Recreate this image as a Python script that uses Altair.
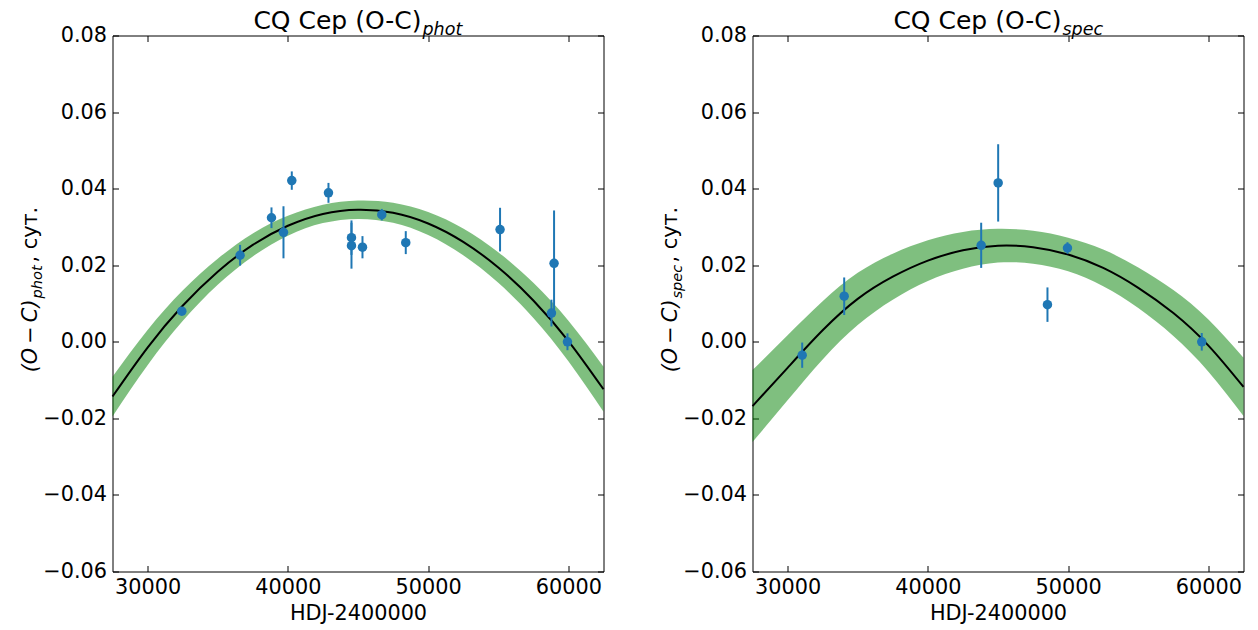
import altair as alt
import pandas as pd

# ---- data ----
x_grid = [27500, 30000, 32500, 35000, 37500, 40000, 42500, 45000,
          47500, 50000, 52500, 55000, 57500, 60000, 62500]

phot_fit = [-0.0143, -0.0015, 0.0094, 0.0183, 0.0253, 0.0303, 0.0334, 0.0345,
            0.0337, 0.0309, 0.0261, 0.0194, 0.0108, 0.0002, -0.0124]
phot_band = [0.0052, 0.0046, 0.0040, 0.0034, 0.0030, 0.0026, 0.0024, 0.0024,
             0.0026, 0.0030, 0.0035, 0.0040, 0.0046, 0.0053, 0.0059]

spec_fit = [-0.0168, -0.0068, 0.0030, 0.0112, 0.0170, 0.0212, 0.0239, 0.0251,
            0.0247, 0.0228, 0.0193, 0.0141, 0.0075, -0.0010, -0.0118]
spec_band = [0.0094, 0.0085, 0.0076, 0.0068, 0.0060, 0.0053, 0.0048, 0.0044,
             0.0043, 0.0044, 0.0048, 0.0053, 0.0060, 0.0068, 0.0076]

phot_hjd = [32440, 36595, 38833, 39688, 40280, 42895, 44535, 44535,
            45319, 46695, 48405, 55126, 58790, 58976, 59930]
phot_oc = [0.0080, 0.0226, 0.0324, 0.0286, 0.0421, 0.0389, 0.0272, 0.0251,
           0.0247, 0.0332, 0.0259, 0.0293, 0.0075, 0.0205, 0.0000]
phot_err = [0.0010, 0.0027, 0.0027, 0.0068, 0.0024, 0.0026, 0.0045, 0.0060,
            0.0029, 0.0015, 0.0030, 0.0057, 0.0035, 0.0138, 0.0022]

spec_hjd = [31042, 34036, 43801, 45012, 48526, 49952, 59524]
spec_oc = [-0.0035, 0.0119, 0.0252, 0.0415, 0.0097, 0.0245, 0.0000]
spec_err = [0.0033, 0.0049, 0.0059, 0.0101, 0.0045, 0.0015, 0.0023]

x_ticks = [30000, 40000, 50000, 60000]
y_ticks = [-0.06, -0.04, -0.02, 0.0, 0.02, 0.04, 0.06, 0.08]

XDOM = [27500, 62500]
YDOM = [-0.06, 0.08]
W, H = 491, 536
FS = 20.8      # tick labels and axis titles
TFS = 25       # panel titles
SFS = 17.5     # title subscript
YSFS = 14.6    # y-title subscript
FONT = "DejaVu Sans"


def txt(text, x, y, size, style="normal", align="left", angle=0):
    return alt.Chart(pd.DataFrame({"t": [text]})).mark_text(
        align=align, baseline="alphabetic", fontSize=size, fontStyle=style,
        angle=angle, color="black", font=FONT
    ).encode(x=alt.value(x), y=alt.value(y), text="t:N")


def panel(fit, band, hjd, oc, err, sub):
    curve = pd.DataFrame({
        "x": x_grid, "y": fit,
        "lo": [f - b for f, b in zip(fit, band)],
        "hi": [f + b for f, b in zip(fit, band)],
    })
    pts = pd.DataFrame({
        "x": hjd, "y": oc,
        "lo": [v - e for v, e in zip(oc, err)],
        "hi": [v + e for v, e in zip(oc, err)],
    })
    xs = alt.Scale(domain=XDOM, nice=False, zero=False)
    ys = alt.Scale(domain=YDOM, nice=False, zero=False)
    common = dict(offset=-6, tickSize=6, tickWidth=1, tickColor="black",
                  domain=False, grid=False,
                  labelFont=FONT, labelFontSize=FS, labelColor="black",
                  titleFont=FONT, titleFontSize=FS, titleColor="black",
                  titleFontWeight="normal")
    ax_bottom = alt.Axis(orient="bottom", values=x_ticks, format="d",
                         title="HDJ-2400000", labelPadding=6, titlePadding=6,
                         **common)
    ax_left = alt.Axis(orient="left", values=y_ticks, format=".2f",
                       title=None, labelPadding=6, **common)
    ax_top = alt.Axis(orient="top", values=x_ticks, labels=False,
                      title=None, **common)
    ax_right = alt.Axis(orient="right", values=y_ticks, labels=False,
                        title=None, **common)

    band_l = alt.Chart(curve).mark_area(
        color="green", opacity=0.5, interpolate="natural"
    ).encode(
        x=alt.X("x:Q", scale=xs, axis=ax_bottom),
        y=alt.Y("lo:Q", scale=ys, axis=ax_left),
        y2="hi:Q",
    )
    line_l = alt.Chart(curve).mark_line(
        color="black", strokeWidth=2, interpolate="natural"
    ).encode(
        x=alt.X("x:Q", scale=xs, axis=ax_top),
        y=alt.Y("y:Q", scale=ys, axis=ax_right),
    )
    bars = alt.Chart(pts).mark_rule(color="#1f77b4", strokeWidth=2).encode(
        x=alt.X("x:Q", scale=xs, axis=None),
        y=alt.Y("lo:Q", scale=ys, axis=None),
        y2="hi:Q",
    )
    dots = alt.Chart(pts).mark_circle(color="#1f77b4", opacity=1, size=90).encode(
        x=alt.X("x:Q", scale=xs, axis=None),
        y=alt.Y("y:Q", scale=ys, axis=None),
    )
    jx = W / 2 + 63.5
    t1 = txt("CQ Cep (O-C)", jx, -7, TFS, align="right")
    t2 = txt(sub, jx + 1, -1, SFS, style="italic", align="left")
    # rotated y title
    bx = -75.7
    p1 = 264
    p2 = 227
    y1 = txt("(O\u2009\u2212\u2009C)", bx, p1, FS, style="italic", align="right", angle=270)
    y2 = txt(sub, bx + 5, p1 - 1, YSFS, style="italic", align="left", angle=270)
    y3 = txt(", сут.", bx, p2, FS, align="left", angle=270)
    return alt.layer(band_l, line_l, bars, dots, t1, t2, y1, y2, y3).resolve_axis(
        x="independent", y="independent"
    ).properties(width=W, height=H)


left = panel(phot_fit, phot_band, phot_hjd, phot_oc, phot_err, "phot")
right = panel(spec_fit, spec_band, spec_hjd, spec_oc, spec_err, "spec")

chart = alt.hconcat(left, right, spacing=50).properties(
    padding={"left": 18.5, "top": 7.5, "right": 5, "bottom": 5},
    background="white",
).configure_view(
    stroke="black", strokeWidth=1
)

chart.save("out.html", embed_options={"renderer": "svg", "actions": False})
